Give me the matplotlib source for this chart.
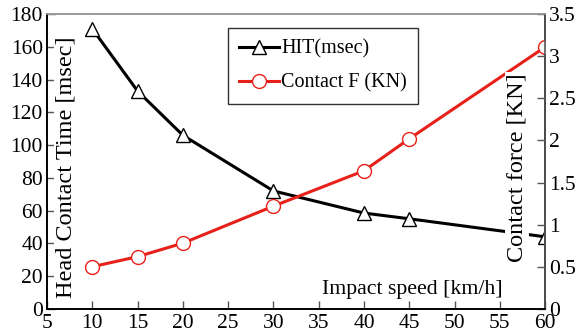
import matplotlib.pyplot as plt

plt.rcParams['font.family'] = ['Liberation Serif', 'DejaVu Serif']

speed = [10, 15, 20, 30, 40, 45, 60]
hit = [171, 133, 106, 72, 58.5, 55, 44]
force = [0.5, 0.62, 0.78, 1.22, 1.64, 2.02, 3.11]

fig = plt.figure(figsize=(5.8, 3.35), dpi=100)
ax = fig.add_axes([0.081, 0.078, 0.859, 0.88])
ax2 = ax.twinx()

l1, = ax.plot(speed, hit, color='black', lw=2.2, marker='^', ms=10,
              mfc='white', mec='black', mew=1.0, label='HIT(msec)')
l2, = ax2.plot(speed, force, color='#e8201a', lw=2.2, marker='o', ms=10,
               mfc='white', mec='#e8201a', mew=1.0, label='Contact F (KN)')

ax.set_xlim(5, 60)
ax.set_ylim(0, 180)
ax2.set_ylim(0, 3.5)
ax.set_xticks(range(5, 61, 5))
ax.set_yticks(range(0, 181, 20))
ax2.set_yticks([0, 0.5, 1, 1.5, 2, 2.5, 3, 3.5])
ax2.set_yticklabels(['0', '0.5', '1', '1.5', '2', '2.5', '3', '3.5'])

for a in (ax, ax2):
    a.tick_params(direction='in', labelsize=15.5, length=6, width=1, colors='#555555',
                  labelcolor='black', pad=3)
ax.tick_params(axis='x', pad=4)
ax.spines['left'].set_color('black')
ax.spines['bottom'].set_color('black')
ax.spines['top'].set_color('#999999')
ax2.spines['right'].set_color('#555555')
ax2.spines['top'].set_color('#999999')
for a in (ax, ax2):
    for s in a.spines.values():
        s.set_linewidth(1.2)

ax.text(0.039, 0.48, 'Head Contact Time [msec]', transform=ax.transAxes,
        rotation=90, ha='center', va='center', fontsize=17.5,
        bbox=dict(facecolor='white', edgecolor='none', pad=1))
ax2.text(0.944, 0.48, 'Contact force [KN]', transform=ax2.transAxes,
         rotation=90, ha='center', va='center', fontsize=17.5, zorder=5,
         bbox=dict(facecolor='white', edgecolor='none', pad=1))
ax.text(0.733, 0.066, 'Impact speed [km/h]', transform=ax.transAxes,
        ha='center', va='center', fontsize=15.7)

leg = ax2.legend([l1, l2], ['HIT(msec)', 'Contact F (KN)'], loc='upper left',
                 bbox_to_anchor=(0.343, 0.986), fontsize=14.5, frameon=True,
                 fancybox=False, edgecolor='black', handlelength=2.0,
                 borderpad=0.55, labelspacing=0.75, handletextpad=0.1)
leg.get_frame().set_linewidth(1.0)

fig.savefig('out.png', dpi=100)
